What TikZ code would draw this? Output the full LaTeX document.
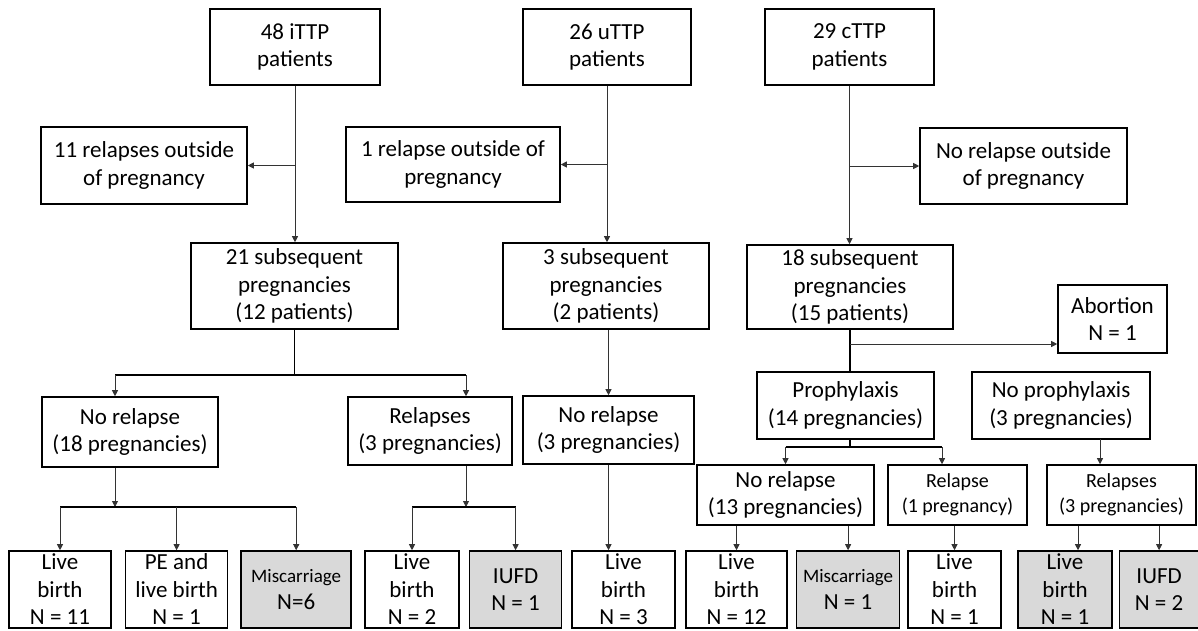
\documentclass[tikz,border=0pt]{standalone}
\usepackage{fontspec}
\setmainfont{Carlito}
\usepackage{tikz}
\usetikzlibrary{arrows.meta, positioning, calc}
\newcommand{\boxfont}{\fontsize{23}{27.5}\selectfont}
\newcommand{\tightfont}{\fontsize{20}{25}\selectfont}
\newcommand{\miscfont}{\fontsize{19}{25}\selectfont}

\begin{document}
\begin{tikzpicture}[
    x=1pt, y=-1pt,
    font=\boxfont,
    stage/.style={draw, line width=1.6pt, align=center, inner sep=0pt},
    shaded/.style={stage, fill=gray!30},
    outcome/.style={stage, minimum height=77pt},
    arrow/.style={-{Triangle[length=6pt, width=6pt]}, line width=0.8pt, black!80},
    trunk/.style={line width=1.6pt}
]
\useasboundingbox (0,0) rectangle (1198,630);

% Patient groups
\node[stage, minimum width=170pt, minimum height=76pt] (ittp) at (295,47) {48 iTTP\\patients};
\node[stage, minimum width=168pt, minimum height=76pt] (uttp) at (607,47) {26 uTTP\\patients};
\node[stage, minimum width=169pt, minimum height=76pt] (cttp) at (849.5,47) {29 cTTP\\patients};

% Relapses outside of pregnancy
\node[stage, minimum width=206pt, minimum height=77pt] (irelout) at (144,165.5) {11 relapses outside\\of pregnancy};
\node[stage, minimum width=214pt, minimum height=75pt] (urelout) at (453,164.5) {1 relapse outside of\\pregnancy};
\node[stage, minimum width=207pt, minimum height=76pt] (crelout) at (1023.5,166) {No relapse outside\\of pregnancy};

% Subsequent pregnancies
\node[stage, minimum width=207pt, minimum height=86pt] (ipreg) at (294.5,286) {21 subsequent\\pregnancies\\(12 patients)};
\node[stage, minimum width=206pt, minimum height=86pt] (upreg) at (606,286) {3 subsequent\\pregnancies\\(2 patients)};
\node[stage, minimum width=206pt, minimum height=84pt] (cpreg) at (850,287) {18 subsequent\\pregnancies\\(15 patients)};
\node[stage, minimum width=109pt, minimum height=68pt] (abort) at (1112.5,319) {Abortion\\N = 1};

% Relapse during pregnancy
\node[stage, minimum width=176pt, minimum height=70pt] (inorel) at (130,432) {No relapse\\(18 pregnancies)};
\node[stage, minimum width=164pt, minimum height=68pt] (irel) at (430,431) {Relapses\\(3 pregnancies)};
\node[stage, minimum width=171pt, minimum height=68pt] (unorel) at (608.5,430) {No relapse\\(3 pregnancies)};
\node[stage, minimum width=177pt, minimum height=67pt] (cproph) at (845.5,405.5) {Prophylaxis\\(14 pregnancies)};
\node[stage, minimum width=178pt, minimum height=67pt] (cnoproph) at (1061,405.5) {No prophylaxis\\(3 pregnancies)};
\node[stage, minimum width=177pt, minimum height=60pt] (cnorel) at (785.5,495) {No relapse\\(13 pregnancies)};
\node[stage, minimum width=139pt, minimum height=60pt, font=\tightfont] (crel1) at (957.5,495) {Relapse\\(1 pregnancy)};
\node[stage, minimum width=149pt, minimum height=60pt, font=\tightfont] (crel3) at (1121.5,495) {Relapses\\(3 pregnancies)};

% Outcomes
\node[outcome, minimum width=102pt] (ilive) at (60,589.5) {Live\\birth\\N = 11};
\node[outcome, minimum width=102pt, right=13pt of ilive] (ipe) {PE and\\live birth\\N = 1};
\node[outcome, shaded, minimum width=110pt, right=12pt of ipe] (imisc) {{\miscfont Miscarriage}\\N=6};
\node[outcome, minimum width=94pt] (irlive) at (412,589.5) {Live\\birth\\N = 2};
\node[outcome, shaded, minimum width=92pt, right=9pt of irlive] (iiufd) {IUFD\\N = 1};
\node[outcome, minimum width=103pt] (ulive) at (623.5,589.5) {Live\\birth\\N = 3};
\node[outcome, minimum width=101pt] (clive) at (736.5,589.5) {Live\\birth\\N = 12};
\node[outcome, shaded, minimum width=103pt, right=8pt of clive] (cmisc) {{\miscfont Miscarriage}\\N = 1};
\node[outcome, minimum width=93pt] (crlive) at (954.5,589.5) {Live\\birth\\N = 1};
\node[outcome, shaded, minimum width=94pt] (cnlive) at (1065,589.5) {Live\\birth\\N = 1};
\node[outcome, shaded, minimum width=79pt, right=6pt of cnlive] (ciufd) {IUFD\\N = 2};

% Split points
\coordinate (i-left) at (115,375);
\coordinate (i-right) at (466,375);
\coordinate (i-split2) at (115,507);
\coordinate (i-split3) at (466,507);
\coordinate (c-split) at (850,344);
\coordinate (c-split2) at (850,447);
\coordinate (c-right) at (942,447);
\coordinate (c-np) at (1100,439);

% iTTP branch
\draw[arrow] (ittp.south) -- (ittp.south |- ipreg.north);
\draw[arrow] (ittp.south |- irelout.east) -- (irelout.east);
\draw[trunk] (ipreg.south) -- (ipreg.south |- i-left);
\draw[trunk] (i-left) -- (i-right);
\draw[arrow] (i-left) -- (i-left |- inorel.north);
\draw[arrow] (i-right) -- (i-right |- irel.north);
\draw[arrow] (i-left |- inorel.south) -- (i-split2);
\draw[trunk] (ilive.north |- i-split2) -- (imisc.north |- i-split2);
\draw[arrow] (ilive.north |- i-split2) -- (ilive.north);
\draw[arrow] (ipe.north |- i-split2) -- (ipe.north);
\draw[arrow] (imisc.north |- i-split2) -- (imisc.north);
\draw[arrow] (i-right |- irel.south) -- (i-split3);
\draw[trunk] (irlive.north |- i-split3) -- (iiufd.north |- i-split3);
\draw[arrow] (irlive.north |- i-split3) -- (irlive.north);
\draw[arrow] (iiufd.north |- i-split3) -- (iiufd.north);

% uTTP branch
\draw[arrow] (uttp.south) -- (uttp.south |- upreg.north);
\draw[arrow] (uttp.south |- urelout.east) -- (urelout.east);
\draw[arrow] (unorel.north |- upreg.south) -- (unorel.north);
\draw[arrow] (unorel.south) -- (unorel.south |- ulive.north);

% cTTP branch
\draw[arrow] (cttp.south) -- (cttp.south |- cpreg.north);
\draw[arrow] (cttp.south |- crelout.west) -- (crelout.west);
\draw[trunk] (cpreg.south) -- (cpreg.south |- cproph.north);
\draw[arrow] (c-split) -- (c-split -| abort.west);
\draw[trunk] (c-split2 |- cproph.south) -- (c-split2);
\draw[trunk] (c-split2 -| cnorel.north) -- (c-right);
\draw[arrow] (c-split2 -| cnorel.north) -- (cnorel.north);
\draw[arrow] (c-right) -- (c-right |- crel1.north);
\draw[arrow] (c-np) -- (c-np |- crel3.north);
\draw[arrow] (clive.north |- cnorel.south) -- (clive.north);
\draw[arrow] (cmisc.north |- cnorel.south) -- (cmisc.north);
\draw[arrow] (crlive.north |- crel1.south) -- (crlive.north);
\draw[arrow] ([xshift=13pt]cnlive.north |- crel3.south) -- ([xshift=13pt]cnlive.north);
\draw[arrow] (ciufd.north |- crel3.south) -- (ciufd.north);
\end{tikzpicture}
\end{document}
